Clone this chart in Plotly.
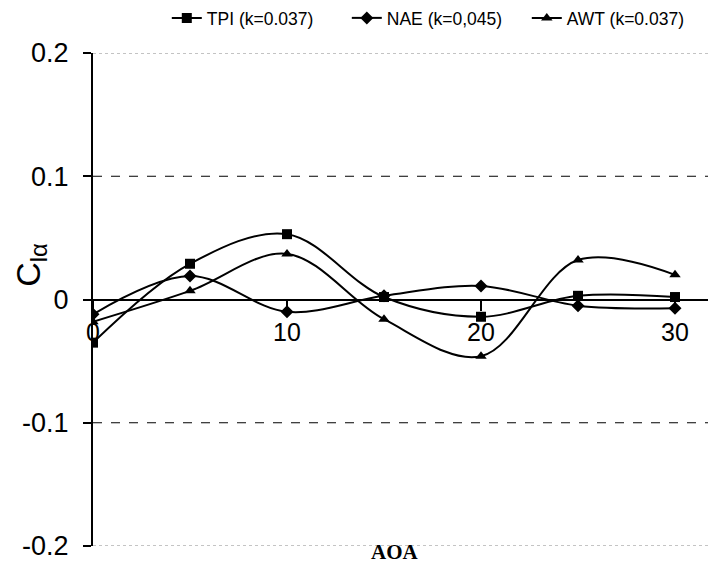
import plotly.graph_objects as go

aoa = [0, 5, 10, 15, 20, 25, 30]
tpi = [-0.035, 0.029, 0.053, 0.002, -0.014, 0.003, 0.002]
nae = [-0.012, 0.019, -0.010, 0.003, 0.011, -0.005, -0.007]
awt = [-0.018, 0.007, 0.037, -0.016, -0.046, 0.032, 0.020]

series = [
    ("TPI (k=0.037)", tpi, "square"),
    ("NAE (k=0,045)", nae, "diamond"),
    ("AWT (k=0.037)", awt, "triangle-up"),
]

x_ticks = [0, 10, 20, 30]
y_ticks = [-0.2, -0.1, 0, 0.1, 0.2]
y_labels = ["-0.2", "-0.1", "0", "0.1", "0.2"]

fig = go.Figure()
for name, vals, sym in series:
    fig.add_trace(go.Scatter(
        x=aoa, y=vals, name=name, mode="lines+markers",
        line=dict(color="black", width=2, shape="spline", smoothing=1.0),
        marker=dict(symbol=sym, size=10, color="black"),
    ))

# grid lines
for yv, dash, col, w in [(0.1, "dash", "black", 1), (-0.1, "dash", "black", 1),
                         (0.2, "dot", "#888888", 1), (-0.2, "dot", "#888888", 1)]:
    fig.add_shape(type="line", xref="paper", x0=0, x1=1, yref="y", y0=yv, y1=yv,
                  line=dict(color=col, width=w, dash=dash), layer="below")

fig.update_layout(
    width=708, height=569,
    margin=dict(l=93, r=0, t=50, b=23),
    paper_bgcolor="white", plot_bgcolor="white",
    font=dict(family="Arial, Liberation Sans, sans-serif", color="black"),
    showlegend=True,
    legend=dict(orientation="h", x=0.12, xanchor="left", y=1.072, yanchor="middle",
                font=dict(size=17.5), entrywidth=135, entrywidthmode="pixels",
                bgcolor="rgba(0,0,0,0)"),
    xaxis=dict(range=[0, 31.7], tickvals=x_ticks, ticktext=[str(v) for v in x_ticks],
               showgrid=False, zeroline=False, showline=True, linecolor="black", linewidth=2,
               ticks="outside", ticklen=10, tickwidth=1.5, tickcolor="black",
               tickfont=dict(size=25), anchor="free", position=0.5, layer="below traces"),
    yaxis=dict(range=[-0.2, 0.2], tickvals=y_ticks, ticktext=y_labels,
               showgrid=False, zeroline=False, showline=True, linecolor="black", linewidth=2,
               ticks="outside", ticklen=8, tickwidth=1.5, tickcolor="black",
               ticklabelstandoff=9, tickfont=dict(size=27)),
)

fig.add_annotation(text="C<sub>lα</sub>", xref="paper", yref="paper", x=-0.102, y=0.571,
                   xanchor="center", yanchor="middle", textangle=-90, showarrow=False,
                   font=dict(size=34))

fig.add_annotation(text="<b>AOA</b>", xref="paper", yref="paper", x=0.491, y=-0.013,
                   xanchor="center", yanchor="middle", showarrow=False,
                   font=dict(family="Liberation Serif, Times New Roman, serif", size=21))

fig.write_html("out.html")
